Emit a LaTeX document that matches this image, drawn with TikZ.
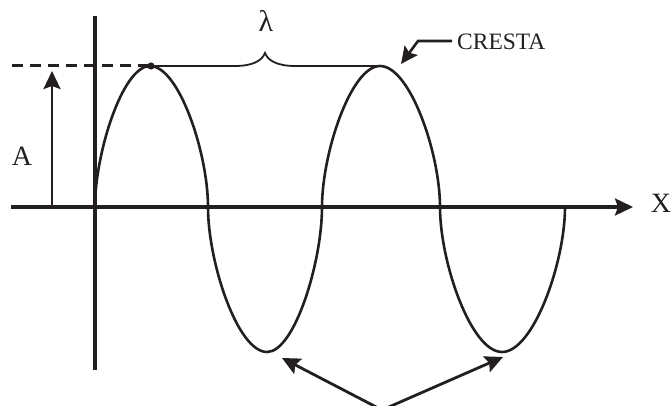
\documentclass[tikz,border=0pt]{standalone}
\usepackage{fontspec}
\setmainfont{Liberation Serif}
\usetikzlibrary{arrows.meta}
\definecolor{ink}{RGB}{35,31,32}
\begin{document}
\begin{tikzpicture}[x=1pt,y=-1pt,
  axis/.style={line width=3.4pt,draw=ink},
  wave/.style={line width=2.6pt,draw=ink},
  bigarrow/.style={line width=2.8pt,draw=ink,-{Stealth[length=18pt,width=17pt,inset=3pt]}},
  lbl/.style={inner sep=0pt,text=ink,font=\fontsize{28}{28}\selectfont}]
\useasboundingbox (0,0) rectangle (671,406);
% coordinates
\coordinate (o) at (95,207);
\coordinate (p1) at (150,66);
\coordinate (z1) at (208,207);
\coordinate (t1) at (267,352);
\coordinate (z2) at (322,207);
\coordinate (p2) at (380,66);
\coordinate (z3) at (440,207);
\coordinate (t2) at (502,352);
\coordinate (z4) at (565,207);
\coordinate (xl) at (11,207);
\coordinate (xr) at (633,207);
\coordinate (yt) at (95,16);
\coordinate (yb) at (95,370);
\coordinate (ab) at (52,207);
\coordinate (at) at (52,71);
\coordinate (dl) at (12,66);
\coordinate (base) at (382,410);
\coordinate (tl) at (282,358);
\coordinate (tr) at (503,357);
\coordinate (c0) at (452,41);
\coordinate (c1) at (418,41);
\coordinate (c2) at (401,64);
% axes
\draw[axis,-{Stealth[length=18pt,width=17pt,inset=3pt]}] (xl) -- (xr);
\draw[axis] (yt) -- (yb);
% dashed amplitude line
\draw[ink,line width=3pt,dash pattern=on 11pt off 7pt] (dl) -- (p1);
% amplitude arrow
\draw[bigarrow] (ab) -- (at);
% wave
\draw[wave] (o) .. controls (95,153.4) and (122.5,66) .. (p1)
  .. controls (179,66) and (208,153.4) .. (z1)
  .. controls (208,262.1) and (237.5,352) .. (t1)
  .. controls (294.5,352) and (322,262.1) .. (z2)
  .. controls (322,153.4) and (351,66) .. (p2)
  .. controls (410,66) and (440,153.4) .. (z3)
  .. controls (440,262.1) and (471,352) .. (t2)
  .. controls (533.5,352) and (565,262.1) .. (z4);
% crest dot
\fill[ink] (151,66) circle (3.6pt);
% brace
\coordinate (bt) at (265,53);
\draw[ink,line width=1.8pt] (p1) -- (235,66) .. controls (252,66) and (262,61) .. (bt)
  .. controls (268,61) and (278,66) .. (295,66) -- (p2);
% labels
\node[lbl,font=\fontsize{30}{30}\selectfont] (lam) at (266,21) {λ};
\node[lbl] (A) at (22,156) {A};
\node[lbl] (X) at (661,203) {X};
\node[lbl,anchor=west,font=\fontsize{23.5}{23.5}\selectfont] (cr) at (457,42) {CRESTA};
% crest arrow
\draw[ink,line width=2.6pt,-{Stealth[length=17pt,width=16pt,inset=3pt]}] (c0) -- (c1) -- (c2);
% trough arrows
\draw[bigarrow] (base) -- (tl);
\draw[bigarrow] (base) -- (tr);
\end{tikzpicture}
\end{document}
